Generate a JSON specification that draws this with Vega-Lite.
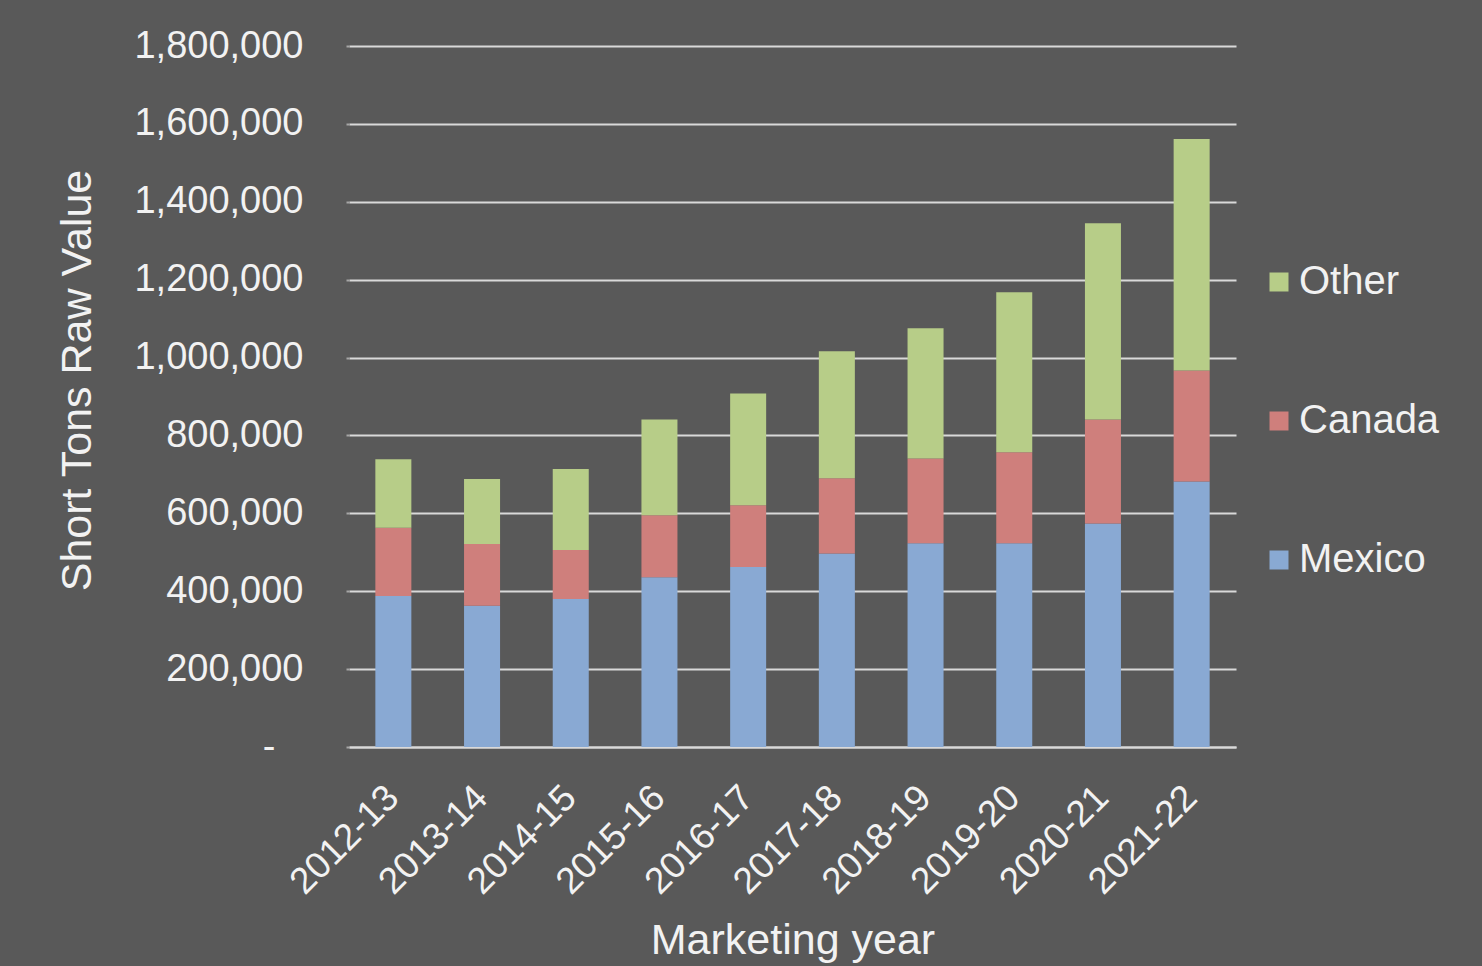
{
  "$schema": "https://vega.github.io/schema/vega-lite/v6.json",
  "autosize": {"type": "none"},
  "padding": {"left": 349, "top": 46, "right": 246, "bottom": 219},
  "width": 887,
  "height": 701,
  "background": "#595959",
  "config": {
    "view": {"stroke": null},
    "font": "Liberation Sans"
  },
  "data": {
    "values": [
      {"year": "2012-13", "region": "Mexico", "tons": 388000},
      {"year": "2012-13", "region": "Canada", "tons": 175000},
      {"year": "2012-13", "region": "Other", "tons": 176000},
      {"year": "2013-14", "region": "Mexico", "tons": 363000},
      {"year": "2013-14", "region": "Canada", "tons": 158000},
      {"year": "2013-14", "region": "Other", "tons": 167000},
      {"year": "2014-15", "region": "Mexico", "tons": 380000},
      {"year": "2014-15", "region": "Canada", "tons": 126000},
      {"year": "2014-15", "region": "Other", "tons": 208000},
      {"year": "2015-16", "region": "Mexico", "tons": 436000},
      {"year": "2015-16", "region": "Canada", "tons": 159000},
      {"year": "2015-16", "region": "Other", "tons": 246000},
      {"year": "2016-17", "region": "Mexico", "tons": 462000},
      {"year": "2016-17", "region": "Canada", "tons": 159000},
      {"year": "2016-17", "region": "Other", "tons": 287000},
      {"year": "2017-18", "region": "Mexico", "tons": 497000},
      {"year": "2017-18", "region": "Canada", "tons": 193000},
      {"year": "2017-18", "region": "Other", "tons": 326000},
      {"year": "2018-19", "region": "Mexico", "tons": 523000},
      {"year": "2018-19", "region": "Canada", "tons": 218000},
      {"year": "2018-19", "region": "Other", "tons": 334000},
      {"year": "2019-20", "region": "Mexico", "tons": 523000},
      {"year": "2019-20", "region": "Canada", "tons": 234000},
      {"year": "2019-20", "region": "Other", "tons": 411000},
      {"year": "2020-21", "region": "Mexico", "tons": 574000},
      {"year": "2020-21", "region": "Canada", "tons": 267000},
      {"year": "2020-21", "region": "Other", "tons": 504000},
      {"year": "2021-22", "region": "Mexico", "tons": 682000},
      {"year": "2021-22", "region": "Canada", "tons": 285000},
      {"year": "2021-22", "region": "Other", "tons": 594000}
    ]
  },
  "transform": [
    {"calculate": "datum.region === 'Mexico' ? 0 : (datum.region === 'Canada' ? 1 : 2)", "as": "stackOrder"}
  ],
  "mark": {"type": "bar"},
  "encoding": {
    "x": {
      "field": "year",
      "type": "nominal",
      "scale": {"paddingInner": 0.594, "paddingOuter": 0.297},
      "axis": {
        "title": "Marketing year",
        "titleFontSize": 43,
        "titleFontWeight": "normal",
        "titleColor": "#f2f2f2",
        "titlePadding": 19,
        "labelAngle": -45,
        "labelFontSize": 37,
        "labelColor": "#f2f2f2",
        "labelPadding": 32,
        "labelOffset": -13,
        "ticks": false,
        "domainColor": "#d9d9d9",
        "domainWidth": 2
      }
    },
    "y": {
      "field": "tons",
      "type": "quantitative",
      "stack": "zero",
      "scale": {"domain": [0, 1800000], "nice": false},
      "axis": {
        "title": "Short Tons Raw Value",
        "titleFontSize": 43,
        "titleFontWeight": "normal",
        "titleColor": "#f2f2f2",
        "titlePadding": 50,
        "titleY": 334,
        "values": [0, 200000, 400000, 600000, 800000, 1000000, 1200000, 1400000, 1600000, 1800000],
        "labelExpr": "datum.value === 0 ? '-\u2800' : format(datum.value, ',')",
        "labelFontSize": 38,
        "labelColor": "#f2f2f2",
        "labelPadding": 43,
        "tickSize": 3,
        "tickColor": "#a6a6a6",
        "tickWidth": 2,
        "domain": false,
        "grid": true,
        "gridColor": "#d9d9d9",
        "gridWidth": 2
      }
    },
    "color": {
      "field": "region",
      "type": "nominal",
      "scale": {
        "domain": ["Other", "Canada", "Mexico"],
        "range": ["#b7cd88", "#cf7f7c", "#89a9d3"]
      },
      "legend": {
        "title": null,
        "orient": "none",
        "legendX": 910,
        "legendY": 216,
        "padding": 0,
        "symbolType": "square",
        "symbolSize": 361,
        "symbolStrokeWidth": 0,
        "labelFontSize": 40,
        "labelColor": "#f2f2f2",
        "labelOffset": 0,
        "rowPadding": 99
      }
    },
    "order": {"field": "stackOrder", "type": "quantitative"}
  }
}
